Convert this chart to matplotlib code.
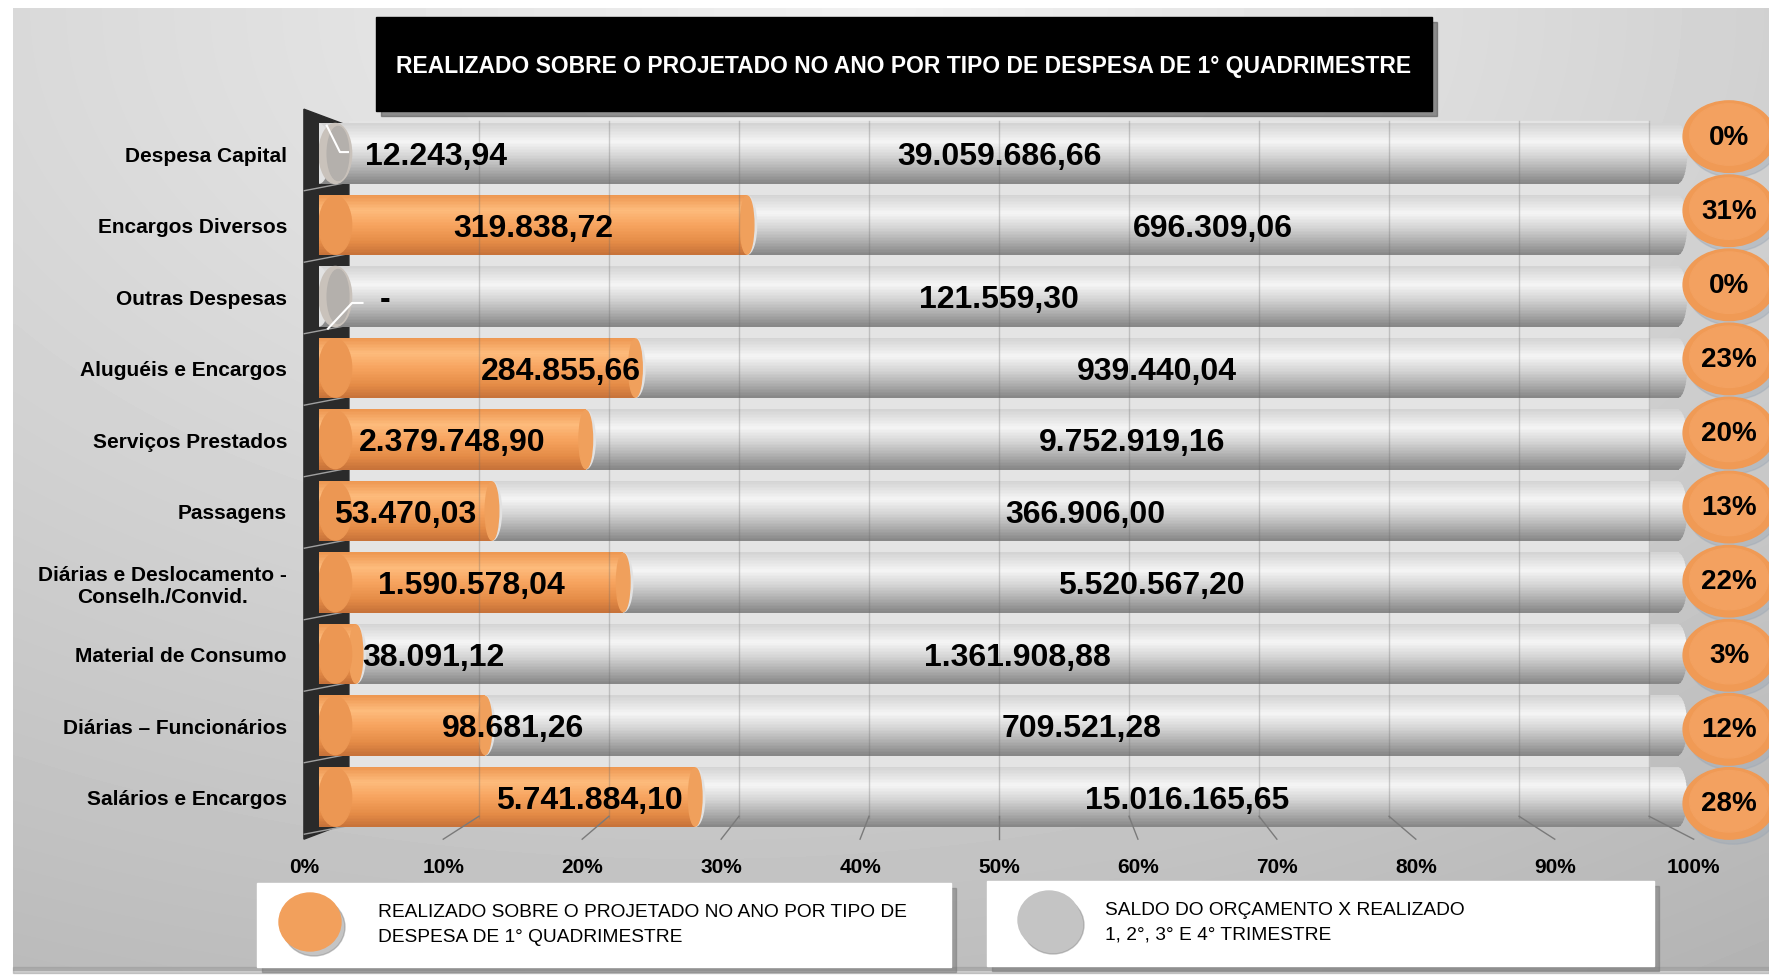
import numpy as np
import matplotlib
matplotlib.use('Agg')
import matplotlib.pyplot as plt
from matplotlib.patches import Rectangle, Ellipse, Polygon
from matplotlib.colors import LinearSegmentedColormap

plt.rcParams['font.family'] = ['Liberation Sans', 'DejaVu Sans']

# dados
categorias = ['Despesa Capital', 'Encargos Diversos', 'Outras Despesas',
              'Aluguéis e Encargos', 'Serviços Prestados', 'Passagens',
              'Diárias e Deslocamento -\nConselh./Convid.', 'Material de Consumo',
              'Diárias – Funcionários', 'Salários e Encargos']
realizado = [12243.94, 319838.72, 0.0, 284855.66, 2379748.90, 53470.03,
             1590578.04, 38091.12, 98681.26, 5741884.10]
saldo = [39059686.66, 696309.06, 121559.30, 939440.04, 9752919.16, 366906.00,
         5520567.20, 1361908.88, 709521.28, 15016165.65]
ticks = [0.0, 0.1, 0.2, 0.3, 0.4, 0.5, 0.6, 0.7, 0.8, 0.9, 1.0]
tick_labels = ['0%', '10%', '20%', '30%', '40%', '50%', '60%', '70%', '80%', '90%', '100%']

titulo = 'REALIZADO SOBRE O PROJETADO NO ANO POR TIPO DE DESPESA DE 1° QUADRIMESTRE'
leg1 = 'REALIZADO SOBRE O PROJETADO NO ANO POR TIPO DE\nDESPESA DE 1° QUADRIMESTRE'
leg2 = 'SALDO DO ORÇAMENTO X REALIZADO\n1, 2°, 3° E 4° TRIMESTRE'

# posicao x dos rotulos laranja (fração do eixo), alguns deslocados a mao
x_rot_laranja = [0.086, None, 0.0485, 0.178, None, None, None, 0.084, 0.143, 0.199]


def fmt(v):
    if v == 0:
        return '-'
    s = f'{v:,.2f}'
    return s.replace(',', 'X').replace('.', ',').replace('X', '.')


cm_laranja = LinearSegmentedColormap.from_list('lar', [
    (0.0, '#ee9852'), (0.25, '#fdbb7c'), (0.5, '#f7a45f'), (0.8, '#e48b46'), (1.0, '#c8733a')])
cm_cinza = LinearSegmentedColormap.from_list('cin', [
    (0.0, '#d4d4d4'), (0.3, '#f5f5f5'), (0.55, '#d4d4d4'), (0.82, '#a8a8a8'), (1.0, '#888888')])

total = np.array(realizado) + np.array(saldo)
p_real = np.array(realizado) / total
p_saldo = np.array(saldo) / total
y = np.arange(len(categorias))
h = 0.84
N = 40  # faixas do degradê


def cilindro(ax, largura, esquerda, cmap, z, clips=None):
    # barra em faixas horizontais para simular o cilindro
    for k in range(N):
        yk = y - h / 2 + (k + 0.5) * h / N
        faixas = ax.barh(yk, largura, left=esquerda, height=h / N * 1.08,
                         color=cmap(k / (N - 1)), linewidth=0, zorder=z)
        if clips is not None:
            for pt, cl in zip(faixas, clips):
                pt.set_clip_path(cl)
                pt.set_clip_box(None)


W, H = 1769, 978
fig = plt.figure(figsize=(W / 100, H / 100), dpi=100)

# fundo
bg = fig.add_axes([0, 0, 1, 1])
bg.set_xlim(0, W)
bg.set_ylim(H, 0)
bg.axis('off')
xx, yy = np.meshgrid(np.linspace(0, 1, 300), np.linspace(0, 1, 200))
dist = np.sqrt(((xx - 0.5) * 1.1) ** 2 + (yy * 1.0) ** 2)
img = 0.96 - 0.2 * dist - 0.03 * xx
bg.imshow(img, cmap='gray', vmin=0, vmax=1, extent=(13, W, 972, 9),
          aspect='auto', zorder=0, interpolation='bicubic')
bg.add_patch(Rectangle((13, 968), W - 13, 6, color='#9a9a9a', alpha=0.5, zorder=1))

# caixa do titulo
bg.add_patch(Rectangle((381, 23), 1056, 94, color='#555555', alpha=0.6, zorder=2))
bg.add_patch(Rectangle((376, 18), 1056, 94, color='black', zorder=3))
bg.text(904, 66, titulo, color='white', fontsize=16.5, fontweight='bold',
        ha='center', va='center', zorder=4)

# legendas
for (x0, y0, w0, h0) in [(257, 884, 694, 84), (987, 882, 667, 85)]:
    bg.add_patch(Rectangle((x0 + 5, y0 + 5), w0, h0, color='#777777', alpha=0.5, zorder=2))
    bg.add_patch(Rectangle((x0, y0), w0, h0, color='white', zorder=3))
bg.add_patch(Ellipse((314, 928), 62, 58, color='#8a8a8a', alpha=0.5, zorder=4))
bg.add_patch(Ellipse((310, 923), 62, 58, color='#f2a05c', zorder=5))
bg.add_patch(Ellipse((1053, 926), 62, 58, color='#8a8a8a', alpha=0.5, zorder=4))
bg.add_patch(Ellipse((1049, 921), 62, 58, color='#c4c4c4', zorder=5))
bg.text(378, 925, leg1, fontsize=13.8, ha='left', va='center', linespacing=1.6, zorder=6)
bg.text(1105, 923, leg2, fontsize=13.8, ha='left', va='center', linespacing=1.6, zorder=6)

# eixo principal
ax = fig.add_axes([319 / W, 1 - 833.75 / H, 1360 / W, 715 / H])
ax.patch.set_alpha(0)
for s in ax.spines.values():
    s.set_visible(False)


def x_fundo(t):
    return 0.5 + (t - 0.5) * 0.956


def x_frente(t):
    return 0.5 + (t - 0.5) * 1.0216


# parede do fundo e parede lateral escura
ax.add_patch(Rectangle((x_fundo(0), -0.45), x_fundo(1) - x_fundo(0), 9.8,
                       color='#e4e4e4', zorder=1, clip_on=False))
ax.add_patch(Polygon([(x_frente(0) - 0.0003, -0.62), (x_fundo(0), -0.385),
                      (x_fundo(0), 9.35), (x_frente(0) - 0.0003, 9.59)],
                     closed=True, color='#2a2a2a', zorder=2, clip_on=False))
for b in np.arange(0.5, 9.6, 1.0):
    ax.plot([x_frente(0), x_fundo(0)], [b + 0.02, b - 0.1], color='#a0a0a0',
            lw=1, zorder=2.5, clip_on=False)

# barras cinza (saldo) com ponta arredondada
pontas = []
for i in range(len(categorias)):
    e = Ellipse((0.999, y[i]), 0.014, h, facecolor='none', edgecolor='none',
                transform=ax.transData)
    pontas.append(e)
cilindro(ax, p_saldo, p_real, cm_cinza, 3)
cilindro(ax, np.full(len(y), 0.01), np.full(len(y), 0.999), cm_cinza, 3, clips=pontas)
for i in range(len(categorias)):
    ax.add_patch(Ellipse((p_real[i], y[i]), 0.014, h * 0.98, color='#e2e2e2', zorder=3.5))

# barras laranja (realizado)
mask = p_real > 0.005
cilindro(ax, np.where(mask, p_real, 0), np.zeros(len(y)), cm_laranja, 4)
for i in range(len(categorias)):
    if mask[i]:
        ax.add_patch(Ellipse((p_real[i], y[i]), 0.01, h * 0.97, color='#f0a05c', zorder=4.1))
        ax.add_patch(Ellipse((0.012, y[i]), 0.024, h * 0.97, color='#ec9753', zorder=4.2))
    else:
        ax.add_patch(Ellipse((0.012, y[i]), 0.024, h, color='#c9c2bb', zorder=4.2))
        ax.add_patch(Ellipse((0.014, y[i]), 0.016, h * 0.9, color='#b4b0ac', zorder=4.3))

# linhas de grade sobre as barras
for t in ticks[1:]:
    ax.plot([x_fundo(t), x_fundo(t)], [-0.45, 9.3], color='#6a6a6a', alpha=0.3,
            lw=1, zorder=5, clip_on=False)
    ax.plot([x_fundo(t), x_frente(t)], [9.27, 9.59], color='#7a7a7a', lw=1,
            zorder=5, clip_on=False)

# rotulos das barras
for i in range(len(categorias)):
    xr = x_rot_laranja[i] if x_rot_laranja[i] is not None else p_real[i] / 2
    ax.text(xr, y[i] + 0.04, fmt(realizado[i]), fontsize=23, fontweight='bold',
            ha='center', va='center', zorder=7)
    ax.text((p_real[i] + 1) / 2, y[i] + 0.04, fmt(saldo[i]), fontsize=23,
            fontweight='bold', ha='center', va='center', zorder=7)

# linhas de chamada (valores quase zero)
ax.plot([0.0057, 0.0154, 0.0213], [-0.39, -0.02, -0.02], color='white', lw=1.5, zorder=6)
ax.plot([0.0066, 0.0243, 0.032], [2.45, 2.09, 2.09], color='white', lw=1.5, zorder=6)

# bolhas de percentual
for i in range(len(categorias)):
    yc = y[i] - 0.236 + 0.0362 * i
    ax.add_patch(Ellipse((1.0398, yc + 0.07), 0.0676, 1.0, color='#9aa6b4',
                         alpha=0.4, zorder=6, clip_on=False))
    ax.add_patch(Ellipse((1.0368, yc), 0.0676, 1.0, color='#f09a55',
                         zorder=6.5, clip_on=False))
    ax.add_patch(Ellipse((1.0368, yc - 0.03), 0.058, 0.86, color='#f3a160',
                         zorder=6.6, clip_on=False))
    ax.text(1.0368, yc, f'{round(p_real[i] * 100)}%', fontsize=20,
            fontweight='bold', ha='center', va='center', zorder=7, clip_on=False)

# eixo x
for t, lab in zip(ticks, tick_labels):
    ax.text(x_frente(t), 9.97, lab, fontsize=15, fontweight='bold',
            ha='center', va='center', clip_on=False, zorder=7)

ax.set_xticks([])
ax.set_yticks(y)
ax.set_yticklabels(categorias, fontsize=15, fontweight='bold', multialignment='center')
ax.tick_params(axis='y', length=0, pad=23)
ax.set_xlim(0, 1)
ax.set_ylim(9.5, -0.5)

fig.savefig('out.png', dpi=100)
